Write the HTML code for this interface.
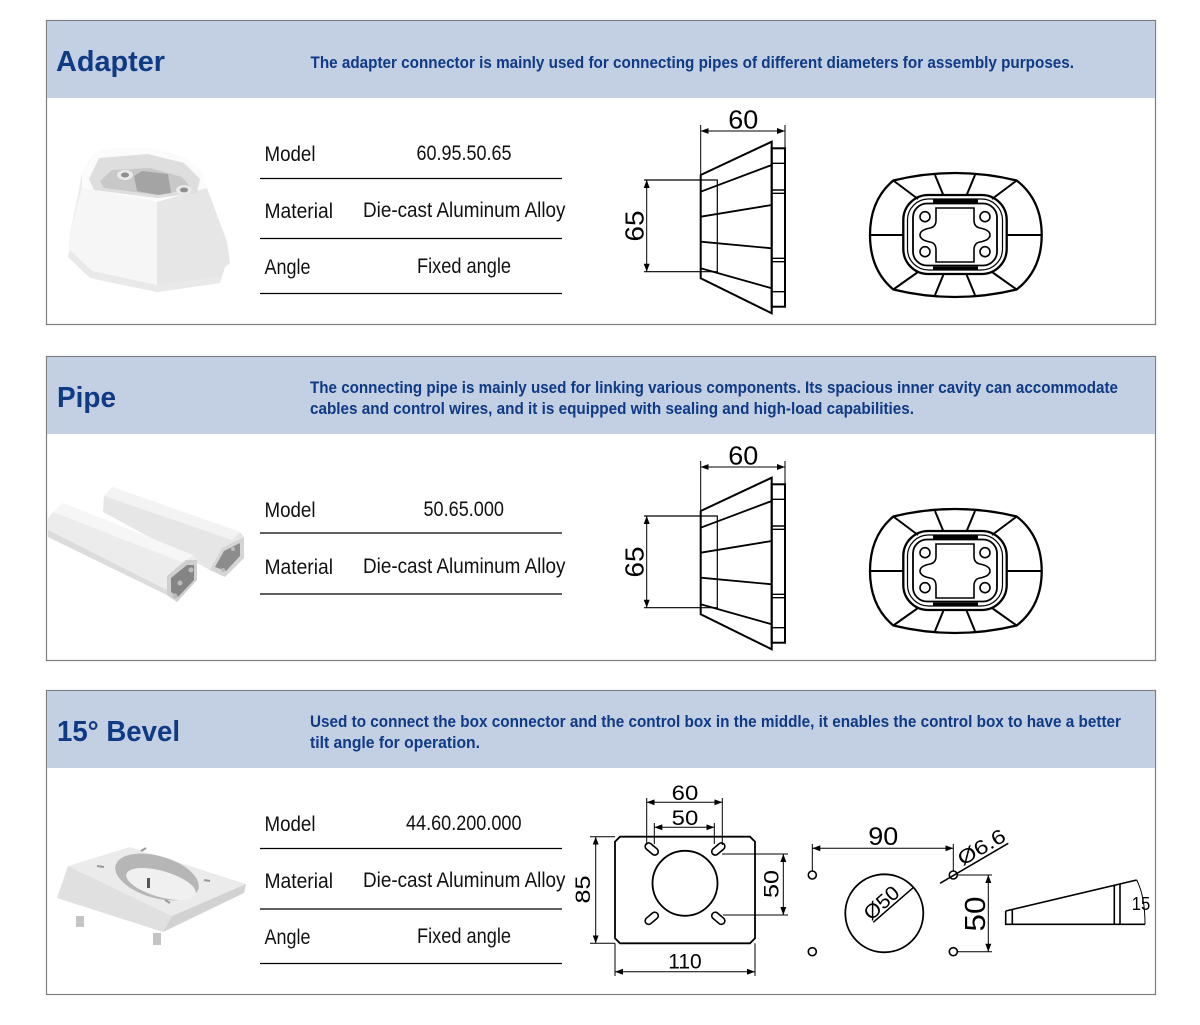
<!DOCTYPE html>
<html><head><meta charset="utf-8"><style>
html,body{margin:0;padding:0;background:#fff;}
svg{display:block;}
text{font-family:"Liberation Sans",Arial,sans-serif;}
</style></head><body>
<svg width="1200" height="1025" viewBox="0 0 1200 1025" xmlns="http://www.w3.org/2000/svg">
<defs>
<marker id="ar" viewBox="0 0 8 6" refX="8" refY="3" markerWidth="8" markerHeight="6" markerUnits="userSpaceOnUse" orient="auto-start-reverse"><path d="M0 0 L8 3 L0 6 Z" fill="#000"/></marker>
</defs>
<rect width="1200" height="1025" fill="#fff"/>

<!-- ===== SECTION FRAMES ===== -->
<rect x="46.5" y="20.5" width="1109" height="304" fill="#fff" stroke="#7d7d7d" stroke-width="1.2"/>
<rect x="47" y="21" width="1108" height="77" fill="#c3cfe3"/>
<rect x="46.5" y="356.5" width="1109" height="304" fill="#fff" stroke="#7d7d7d" stroke-width="1.2"/>
<rect x="47" y="357" width="1108" height="77" fill="#c3cfe3"/>
<rect x="46.5" y="690.5" width="1109" height="304" fill="#fff" stroke="#7d7d7d" stroke-width="1.2"/>
<rect x="47" y="691" width="1108" height="77" fill="#c3cfe3"/>

<!-- ===== HEADERS ===== -->
<g fill="#0f3a84" font-weight="bold">
<text x="56" y="71" font-size="29" textLength="109" lengthAdjust="spacingAndGlyphs">Adapter</text>
<text x="310.5" y="68" font-size="17" textLength="763.5" lengthAdjust="spacingAndGlyphs">The adapter connector is mainly used for connecting pipes of different diameters for assembly purposes.</text>
<text x="57" y="407" font-size="29" textLength="59" lengthAdjust="spacingAndGlyphs">Pipe</text>
<text x="310" y="393" font-size="17" textLength="808" lengthAdjust="spacingAndGlyphs">The connecting pipe is mainly used for linking various components. Its spacious inner cavity can accommodate</text>
<text x="310" y="414" font-size="17" textLength="604" lengthAdjust="spacingAndGlyphs">cables and control wires, and it is equipped with sealing and high-load capabilities.</text>
<text x="57" y="741" font-size="29" textLength="123" lengthAdjust="spacingAndGlyphs">15° Bevel</text>
<text x="310" y="727" font-size="17" textLength="811" lengthAdjust="spacingAndGlyphs">Used to connect the box connector and the control box in the middle, it enables the control box to have a better</text>
<text x="310" y="748" font-size="17" textLength="170" lengthAdjust="spacingAndGlyphs">tilt angle for operation.</text>
</g>

<!-- ===== TABLES ===== -->
<g stroke="#000" stroke-width="1.2">
<line x1="260" y1="178.5" x2="562" y2="178.5"/>
<line x1="260" y1="238.5" x2="562" y2="238.5"/>
<line x1="260" y1="293.5" x2="562" y2="293.5"/>
<line x1="260" y1="533" x2="562" y2="533"/>
<line x1="260" y1="594" x2="562" y2="594"/>
<line x1="260" y1="848.5" x2="562" y2="848.5"/>
<line x1="260" y1="909" x2="562" y2="909"/>
<line x1="260" y1="963.5" x2="562" y2="963.5"/>
</g>
<g fill="#111" font-size="21">
<text x="264.5" y="161" textLength="51" lengthAdjust="spacingAndGlyphs">Model</text>
<text x="416.5" y="160" textLength="95" lengthAdjust="spacingAndGlyphs">60.95.50.65</text>
<text x="264.5" y="218" textLength="68.5" lengthAdjust="spacingAndGlyphs">Material</text>
<text x="363" y="217" textLength="202.5" lengthAdjust="spacingAndGlyphs">Die-cast Aluminum Alloy</text>
<text x="264.5" y="274" textLength="46" lengthAdjust="spacingAndGlyphs">Angle</text>
<text x="417" y="273" textLength="94" lengthAdjust="spacingAndGlyphs">Fixed angle</text>

<text x="264.5" y="517" textLength="51" lengthAdjust="spacingAndGlyphs">Model</text>
<text x="423.5" y="516" textLength="80.5" lengthAdjust="spacingAndGlyphs">50.65.000</text>
<text x="264.5" y="574" textLength="68.5" lengthAdjust="spacingAndGlyphs">Material</text>
<text x="363" y="573" textLength="202.5" lengthAdjust="spacingAndGlyphs">Die-cast Aluminum Alloy</text>

<text x="264.5" y="831" textLength="51" lengthAdjust="spacingAndGlyphs">Model</text>
<text x="406" y="830" textLength="115.5" lengthAdjust="spacingAndGlyphs">44.60.200.000</text>
<text x="264.5" y="888" textLength="68.5" lengthAdjust="spacingAndGlyphs">Material</text>
<text x="363" y="887" textLength="202.5" lengthAdjust="spacingAndGlyphs">Die-cast Aluminum Alloy</text>
<text x="264.5" y="944" textLength="46" lengthAdjust="spacingAndGlyphs">Angle</text>
<text x="417" y="943" textLength="94" lengthAdjust="spacingAndGlyphs">Fixed angle</text>
</g>

<!-- ===== PRODUCT: ADAPTER ===== -->
<g>
<path fill="#ececec" d="M82 172 L93 155 L105 149 L150 148 L183 157 L202 171 L207 188 L227 242 L230 263 L225 267 L220 283 L157 292 L90 278 L68 257 L70 233 L78 195 Z"/>
<path fill="#f6f6f6" d="M82 188 L157 202 L157 292 L90 278 L68 257 L70 233 Z"/>
<path fill="#e6e6e6" d="M157 202 L207 188 L227 242 L230 263 L225 267 L220 283 L157 292 Z"/>
<path fill="#fbfbfb" d="M82 172 L93 155 L105 149 L150 148 L183 157 L202 171 L207 188 L157 202 L82 188 Z"/>
<path fill="#dedede" d="M89 179 L99 158 L148 154 L184 163 L200 179 L197 193 L157 198 L94 190 Z"/>
<path fill="#c8c8c8" d="M100 181 L112 170 L150 168 L182 177 L192 189 L158 195 L104 188 Z"/>
<path fill="#a4a4a4" d="M134 176 L142 171 L168 174 L171 193 L158 195 L137 191 Z"/>
<ellipse cx="125" cy="175" rx="8" ry="5" fill="#e9e9e9"/>
<ellipse cx="125" cy="175" rx="4" ry="2.5" fill="#8e8e8e"/>
<ellipse cx="184" cy="190" rx="8" ry="5" fill="#e9e9e9"/>
<ellipse cx="184" cy="190" rx="4" ry="2.5" fill="#8e8e8e"/>
<path fill="#e9e9e9" d="M68 257 L90 278 L157 292 L220 283 L222 276 L157 285 L92 271 L70 250 Z"/>
</g>

<!-- ===== PRODUCT: PIPE ===== -->
<g>
<path fill="#e6e6e6" d="M103 512 L104 496 L112 487 L240 532 L244 537 L244 558 L225 577 L210 570 Z"/>
<path fill="#f3f3f3" d="M104 496 L112 487 L240 532 L232 540 Z"/>
<path fill="#d5d5d5" d="M210 570 L222 548 L244 537 L244 558 L225 577 Z"/>
<path fill="#8c8c8c" d="M215 567 L224 551 L240 543 L240 556 L226 571 Z"/>
<path fill="#ececec" d="M47 520 L53 512 L63 503 L193 555 L197 560 L197 580 L177 602 L167 595 L48 537 Z"/>
<path fill="#f6f6f6" d="M53 512 L63 503 L193 555 L184 563 Z"/>
<path fill="#dcdcdc" d="M48 530 L167 590 L167 595 L48 537 Z"/>
<path fill="#cfcfcf" d="M167 576 L186 560 L197 560 L197 580 L177 602 L167 595 Z"/>
<path fill="#858585" d="M171 578 L187 565 L194 565 L194 580 L178 597 L171 592 Z"/>
<circle cx="180" cy="583" r="2.5" fill="#bbb"/><circle cx="175" cy="596" r="2.5" fill="#bbb"/><circle cx="191" cy="570" r="2.5" fill="#bbb"/>
<circle cx="233" cy="549" r="2" fill="#bbb"/><circle cx="223" cy="570" r="2" fill="#bbb"/>
</g>

<!-- ===== PRODUCT: BEVEL ===== -->
<g>
<path fill="#ebebeb" d="M68 866 L130 847 L246 884 L172 916 Z"/>
<path fill="#e0e0e0" d="M68 866 L172 916 L163 932 L57 898 Z"/>
<path fill="#d2d2d2" d="M172 916 L246 884 L244 893 L163 932 Z"/>
<ellipse cx="157" cy="877" rx="43" ry="21" transform="rotate(16 157 877)" fill="#b6b6b6"/>
<ellipse cx="161" cy="884" rx="36" ry="13" transform="rotate(16 161 884)" fill="#f0f0f0"/>
<rect x="147" y="878" width="3" height="10" fill="#555"/>
<path d="M97 866 L104 867 M141 851 L146 848 M204 880 L210 881 M165 900 L170 903" stroke="#999" stroke-width="2"/>
<rect x="76" y="916" width="8" height="11" fill="#c4c4c4"/>
<rect x="153" y="933" width="8" height="12" fill="#c4c4c4"/>
</g>

<!-- ===== DRAWING 1 (Adapter) ===== -->
<g id="dw" fill="none" stroke="#000">
<path stroke-width="2" d="M700.7 175 L771.7 141.7 L771.7 313.3 L700.7 278.3 Z"/>
<rect x="771.7" y="148.3" width="13.3" height="158.4" stroke-width="2"/>
<path stroke-width="1.8" d="M700.7 191.7 L771.7 165 M700.7 216.7 L771.7 205 M700.7 241.7 L771.7 248.3 M700.7 268.3 L771.7 288.3"/>
<path stroke-width="1.4" d="M771.7 163.3 H785 M771.7 190 H785 M771.7 193.3 H785 M771.7 258.3 H785 M771.7 261.7 H785 M771.7 291.7 H785"/>
<path stroke-width="1.2" d="M644 180 H717.3 V271.7 H644"/>
<path stroke-width="1" d="M700.7 125 V175 M785 125 V148.3"/>
<line x1="700.7" y1="131" x2="785" y2="131" stroke-width="1" marker-start="url(#ar)" marker-end="url(#ar)"/>
<line x1="646.7" y1="180" x2="646.7" y2="271.7" stroke-width="1" marker-start="url(#ar)" marker-end="url(#ar)"/>
<!-- top view -->
<path stroke-width="2.3" d="M893.3 180.5 Q955 165.5 1016.7 180.5 Q1041.7 200 1041.7 235 Q1041.7 270 1016.7 289.5 Q955 304.5 893.3 289.5 Q870 270 870 235 Q870 200 893.3 180.5 Z"/>
<rect x="903.3" y="195" width="103.4" height="79" rx="25" stroke-width="2.3"/>
<rect x="907.5" y="199" width="95" height="71" rx="21" stroke-width="1.2"/>
<rect x="913" y="203.5" width="84" height="62" rx="14" stroke-width="1.8"/>
<path stroke-width="4" d="M933 201 H978 M933 268.5 H978"/>
<circle cx="925" cy="216.7" r="5" stroke-width="1.6"/>
<circle cx="985" cy="216.7" r="5" stroke-width="1.6"/>
<circle cx="925" cy="251.7" r="5" stroke-width="1.6"/>
<circle cx="985" cy="251.7" r="5" stroke-width="1.6"/>
<path stroke-width="1.6" d="M936 208 H974 V220 Q974 227 980 228 Q990 230 990 235 Q990 240 980 242 Q974 243 974 250 V262 H936 V250 Q936 243 930 242 Q920 240 920 235 Q920 230 930 228 Q936 227 936 220 Z"/>
<path stroke-width="2" d="M935 175 L943.3 195 M975 175 L966.7 195 M893.3 180.5 L918 199 M1016.7 180.5 L992 199 M870 235 H903.3 M1006.7 235 H1041.7 M893.3 289.5 L918 272 M1016.7 289.5 L992 272 M935 295 L943.3 275 M975 295 L966.7 275"/>
</g>
<use href="#dw" x="0" y="336"/>
<g fill="#000" font-size="25.5">
<text x="743.3" y="128.5" text-anchor="middle" textLength="30" lengthAdjust="spacingAndGlyphs">60</text>
<text transform="translate(643.3 226) rotate(-90)" text-anchor="middle" textLength="31" lengthAdjust="spacingAndGlyphs">65</text>
<text x="743.3" y="464.5" text-anchor="middle" textLength="30" lengthAdjust="spacingAndGlyphs">60</text>
<text transform="translate(643.3 562) rotate(-90)" text-anchor="middle" textLength="31" lengthAdjust="spacingAndGlyphs">65</text>
</g>

<!-- ===== DRAWING 3 (Bevel) ===== -->
<g fill="none" stroke="#000">
<path stroke-width="1.8" d="M620 836.7 H750 L755 841.7 V938.3 L750 943.3 H620 L615 938.3 V841.7 Z"/>
<circle cx="685" cy="883.3" r="32.5" stroke-width="1.8"/>
<rect x="644.2" y="845.5" width="15" height="7" rx="3.5" transform="rotate(40 651.7 849)" stroke-width="1.6"/>
<rect x="710.8" y="845.5" width="15" height="7" rx="3.5" transform="rotate(-40 718.3 849)" stroke-width="1.6"/>
<rect x="644.2" y="914.8" width="15" height="7" rx="3.5" transform="rotate(-40 651.7 918.3)" stroke-width="1.6"/>
<rect x="710.8" y="914.8" width="15" height="7" rx="3.5" transform="rotate(40 718.3 918.3)" stroke-width="1.6"/>
<path stroke-width="1" d="M646.7 798 V845 M722.3 798 V845 M654.3 823 V844 M714.3 823 V844 M590 836.7 H615 M590 943.3 H615 M615 943.3 V976 M755 943.3 V976 M722 854 H788 M723 915 H788"/>
<line x1="646.7" y1="802.3" x2="722.3" y2="802.3" stroke-width="1" marker-start="url(#ar)" marker-end="url(#ar)"/>
<line x1="654.3" y1="827.3" x2="714.3" y2="827.3" stroke-width="1" marker-start="url(#ar)" marker-end="url(#ar)"/>
<line x1="595.7" y1="836.7" x2="595.7" y2="943.3" stroke-width="1" marker-start="url(#ar)" marker-end="url(#ar)"/>
<line x1="615" y1="971.7" x2="755" y2="971.7" stroke-width="1" marker-start="url(#ar)" marker-end="url(#ar)"/>
<line x1="783.3" y1="854" x2="783.3" y2="915" stroke-width="1" marker-start="url(#ar)" marker-end="url(#ar)"/>

<circle cx="812.3" cy="875" r="4" stroke-width="1.6"/>
<circle cx="953.3" cy="875" r="4" stroke-width="1.6"/>
<circle cx="812.3" cy="951.7" r="4" stroke-width="1.6"/>
<circle cx="953.3" cy="951.7" r="4" stroke-width="1.6"/>
<circle cx="884.3" cy="913.3" r="39" stroke-width="1.8"/>
<path stroke-width="1" d="M812.3 844 V871 M953.3 844 V871 M957 875 H992 M957 951.7 H992"/>
<line x1="812.3" y1="848.3" x2="953.3" y2="848.3" stroke-width="1" marker-start="url(#ar)" marker-end="url(#ar)"/>
<line x1="988.3" y1="875" x2="988.3" y2="951.7" stroke-width="1" marker-start="url(#ar)" marker-end="url(#ar)"/>
<path stroke-width="1.5" d="M940 883.3 L1008.3 843.3 M873.3 922.3 L913.5 887.4"/>

<path stroke-width="1.6" d="M1005.7 911 L1136.7 880 M1005.7 911 V924.3 H1145 M1012.3 909.5 V924.3 M1114.3 885.3 V924.3 M1120 884 V924.3"/>
<path stroke-width="1" d="M1136.7 880 Q1145 896 1145 924.3"/>
</g>
<g fill="#000">
<text x="685" y="800" font-size="21" text-anchor="middle" textLength="26.6" lengthAdjust="spacingAndGlyphs">60</text>
<text x="685" y="825" font-size="21" text-anchor="middle" textLength="26.6" lengthAdjust="spacingAndGlyphs">50</text>
<text transform="translate(590 889.5) rotate(-90)" font-size="21" text-anchor="middle" textLength="28" lengthAdjust="spacingAndGlyphs">85</text>
<text x="685" y="968.3" font-size="21" text-anchor="middle" textLength="33.4" lengthAdjust="spacingAndGlyphs">110</text>
<text transform="translate(778.3 884) rotate(-90)" font-size="21" text-anchor="middle" textLength="28" lengthAdjust="spacingAndGlyphs">50</text>
<text x="883.3" y="845" font-size="25" text-anchor="middle" textLength="30" lengthAdjust="spacingAndGlyphs">90</text>
<text transform="translate(985 853) rotate(-30.4)" font-size="20" text-anchor="middle" textLength="52" lengthAdjust="spacingAndGlyphs">Ø6.6</text>
<text transform="translate(886 908) rotate(-41.5)" font-size="20" text-anchor="middle" textLength="40" lengthAdjust="spacingAndGlyphs">Ø50</text>
<text transform="translate(985 914) rotate(-90)" font-size="29" text-anchor="middle" textLength="35" lengthAdjust="spacingAndGlyphs">50</text>
<text x="1141" y="910" font-size="18" text-anchor="middle" textLength="18.5" lengthAdjust="spacingAndGlyphs">15</text>
</g>
</svg>
</body></html>
